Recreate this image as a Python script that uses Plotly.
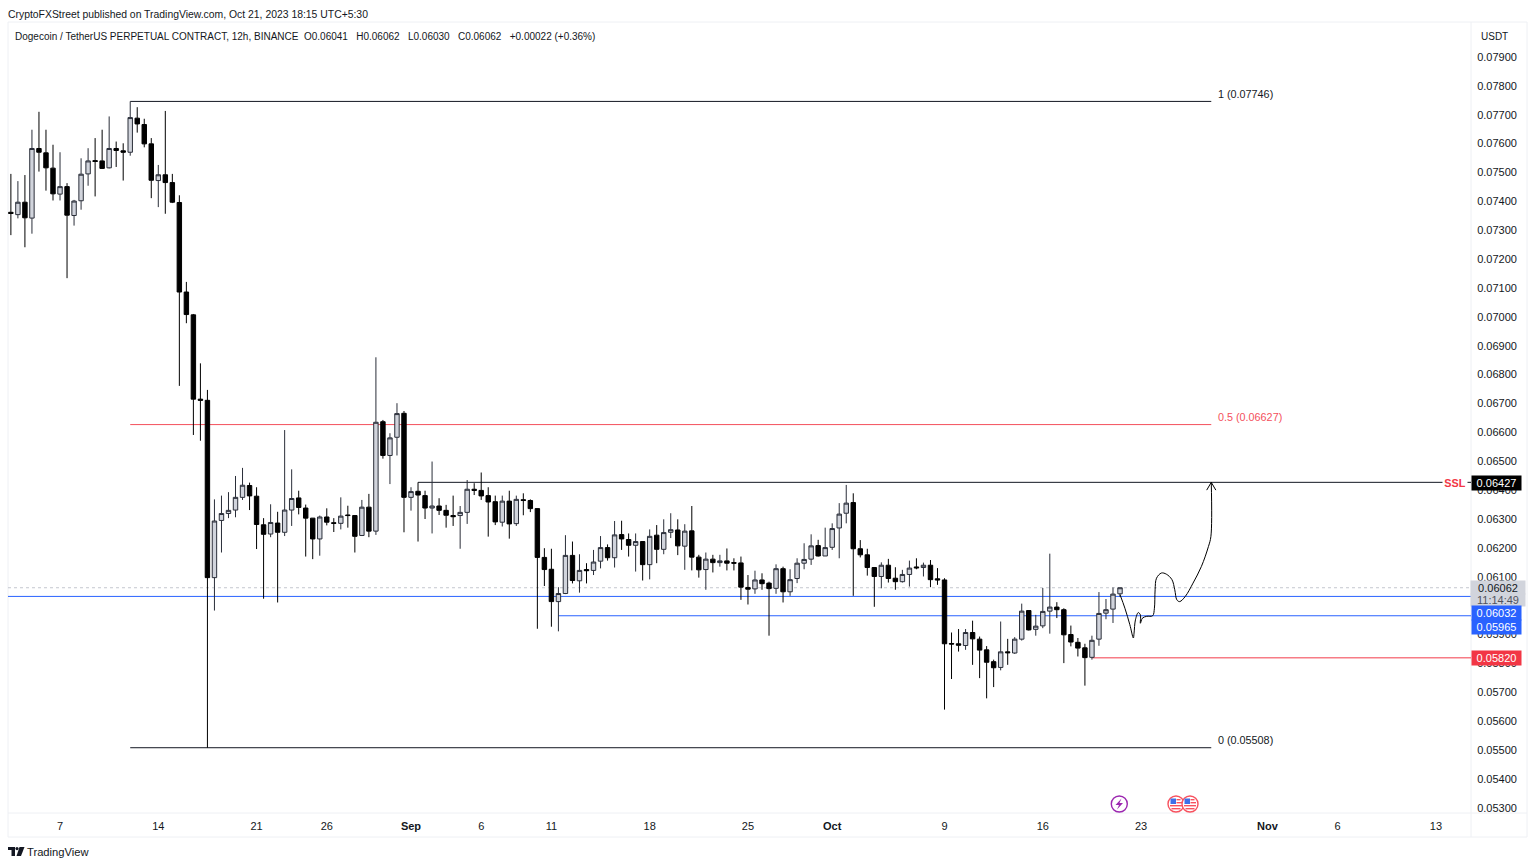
import plotly.graph_objects as go

opens = [0.07362,0.07354,0.07397,0.07342,0.07583,0.07568,0.07515,0.07425,0.07451,0.07351,
0.07402,0.07495,0.07541,0.07540,0.07516,0.07583,0.07575,0.07570,0.07688,0.07666,
0.07599,0.07472,0.07492,0.07465,0.07396,0.07086,0.07007,0.06715,0.06711,0.06097,
0.06295,0.06319,0.06331,0.06375,0.06416,0.06379,0.06280,0.06248,0.06286,0.06254,
0.06331,0.06373,0.06338,0.06303,0.06231,0.06307,0.06287,0.06285,0.06314,0.06312,
0.06243,0.06341,0.06258,0.06637,0.06520,0.06583,0.06666,0.06375,0.06396,0.06381,
0.06338,0.06345,0.06330,0.06312,0.06312,0.06323,0.06403,0.06399,0.06381,0.06360,
0.06289,0.06362,0.06284,0.06367,0.06364,0.06336,0.06167,0.06126,0.06014,0.06042,
0.06174,0.06086,0.06125,0.06122,0.06154,0.06201,0.06166,0.06246,0.06229,0.06209,
0.06222,0.06142,0.06244,0.06195,0.06254,0.06262,0.06206,0.06259,0.06168,0.06125,
0.06161,0.06149,0.06155,0.06149,0.06148,0.06063,0.06058,0.06089,0.06078,0.06060,
0.06128,0.06048,0.06094,0.06147,0.06161,0.06208,0.06172,0.06202,0.06269,0.06320,
0.06357,0.06197,0.06176,0.06132,0.06101,0.06140,0.06095,0.06083,0.06108,0.06134,
0.06132,0.06140,0.06093,0.06089,0.05869,0.05868,0.05862,0.05907,0.05884,0.05847,
0.05806,0.05786,0.05840,0.05836,0.05884,0.05983,0.05918,0.05930,0.05981,0.05995,
0.05986,0.05900,0.05873,0.05854,0.05821,0.05884,0.05974,0.05988,0.06041]
highs = [0.07495,0.07470,0.07491,0.07648,0.07710,0.07648,0.07596,0.07570,0.07463,0.07405,
0.07549,0.07584,0.07619,0.07648,0.07694,0.07607,0.07601,0.07746,0.07726,0.07686,
0.07619,0.07526,0.07713,0.07495,0.07421,0.07121,0.07010,0.06839,0.06747,0.06368,
0.06381,0.06393,0.06449,0.06477,0.06426,0.06410,0.06303,0.06351,0.06325,0.06608,
0.06472,0.06398,0.06350,0.06303,0.06312,0.06337,0.06303,0.06375,0.06346,0.06312,
0.06366,0.06387,0.06860,0.06643,0.06597,0.06701,0.06674,0.06410,0.06427,0.06398,
0.06499,0.06372,0.06349,0.06381,0.06345,0.06435,0.06424,0.06461,0.06410,0.06381,
0.06381,0.06398,0.06381,0.06389,0.06368,0.06336,0.06199,0.06197,0.06064,0.06244,
0.06222,0.06178,0.06147,0.06193,0.06241,0.06212,0.06293,0.06294,0.06250,0.06250,
0.06222,0.06264,0.06279,0.06299,0.06320,0.06299,0.06282,0.06345,0.06176,0.06184,
0.06176,0.06176,0.06198,0.06164,0.06170,0.06106,0.06121,0.06112,0.06083,0.06143,
0.06135,0.06126,0.06164,0.06216,0.06247,0.06228,0.06270,0.06285,0.06355,0.06418,
0.06389,0.06227,0.06197,0.06133,0.06150,0.06162,0.06133,0.06124,0.06156,0.06164,
0.06149,0.06158,0.06130,0.06095,0.05907,0.05919,0.05919,0.05948,0.05893,0.05860,
0.05813,0.05945,0.05885,0.05891,0.06007,0.05983,0.05968,0.06061,0.06180,0.06012,
0.05991,0.05931,0.05888,0.05868,0.05896,0.06047,0.06023,0.06063,0.06062]
lows = [0.07283,0.07341,0.07241,0.07288,0.07503,0.07437,0.07403,0.07403,0.07134,0.07316,
0.07371,0.07454,0.07417,0.07512,0.07514,0.07519,0.07472,0.07558,0.07638,0.07587,
0.07411,0.07380,0.07357,0.07394,0.06761,0.06978,0.06591,0.06571,0.05508,0.05983,
0.06184,0.06303,0.06306,0.06366,0.06331,0.06196,0.06024,0.06237,0.06011,0.06241,
0.06276,0.06316,0.06170,0.06161,0.06173,0.06278,0.06255,0.06264,0.06270,0.06184,
0.06241,0.06237,0.06245,0.06509,0.06421,0.06520,0.06254,0.06329,0.06222,0.06300,
0.06250,0.06314,0.06270,0.06276,0.06197,0.06283,0.06383,0.06366,0.06239,0.06279,
0.06274,0.06232,0.06276,0.06313,0.06324,0.05920,0.06068,0.05927,0.05911,0.06040,
0.06077,0.06045,0.06077,0.06106,0.06129,0.06156,0.06132,0.06193,0.06170,0.06118,
0.06087,0.06091,0.06147,0.06178,0.06234,0.06175,0.06124,0.06122,0.06097,0.06055,
0.06115,0.06135,0.06122,0.06122,0.06020,0.06004,0.06041,0.06055,0.05896,0.06041,
0.06011,0.06034,0.06078,0.06126,0.06141,0.06170,0.06172,0.06193,0.06164,0.06285,
0.06034,0.06167,0.06104,0.05996,0.06060,0.06080,0.06055,0.06080,0.06066,0.06126,
0.06101,0.06064,0.06072,0.05640,0.05746,0.05841,0.05847,0.05795,0.05749,0.05679,
0.05718,0.05776,0.05795,0.05833,0.05879,0.05914,0.05896,0.05922,0.05903,0.05957,
0.05801,0.05859,0.05824,0.05723,0.05813,0.05861,0.05953,0.05940,0.06030]
closes = [0.07358,0.07397,0.07343,0.07583,0.07570,0.07516,0.07426,0.07451,0.07352,0.07401,
0.07494,0.07540,0.07538,0.07514,0.07583,0.07576,0.07570,0.07690,0.07668,0.07599,
0.07473,0.07492,0.07465,0.07397,0.07086,0.07008,0.06715,0.06711,0.06097,0.06293,
0.06319,0.06330,0.06375,0.06417,0.06380,0.06281,0.06247,0.06288,0.06254,0.06331,
0.06371,0.06340,0.06303,0.06231,0.06307,0.06289,0.06285,0.06310,0.06312,0.06240,
0.06341,0.06258,0.06635,0.06520,0.06581,0.06665,0.06375,0.06395,0.06383,0.06338,
0.06345,0.06330,0.06313,0.06308,0.06323,0.06403,0.06399,0.06380,0.06359,0.06290,
0.06362,0.06283,0.06368,0.06364,0.06336,0.06167,0.06125,0.06014,0.06042,0.06174,
0.06087,0.06122,0.06121,0.06151,0.06201,0.06166,0.06245,0.06231,0.06209,0.06222,
0.06142,0.06240,0.06195,0.06253,0.06263,0.06207,0.06258,0.06168,0.06124,0.06161,
0.06149,0.06155,0.06147,0.06147,0.06064,0.06057,0.06089,0.06076,0.06059,0.06128,
0.06048,0.06090,0.06147,0.06160,0.06207,0.06172,0.06201,0.06267,0.06317,0.06355,
0.06197,0.06176,0.06132,0.06101,0.06140,0.06094,0.06083,0.06108,0.06130,0.06131,
0.06140,0.06090,0.06089,0.05868,0.05867,0.05863,0.05907,0.05885,0.05846,0.05804,
0.05785,0.05840,0.05837,0.05884,0.05981,0.05916,0.05929,0.05980,0.05995,0.05986,
0.05899,0.05874,0.05853,0.05820,0.05880,0.05973,0.05986,0.06040,0.06062]

tick_bars = [7, 21, 35, 45, 57, 67, 77, 91, 105, 117, 133, 147, 161, 179, 189, 203]
tick_labels = ["7", "14", "21", "26", "<b>Sep</b>", "6", "11", "18", "25", "<b>Oct</b>", "9", "16", "23", "<b>Nov</b>", "6", "13"]
price_ticks = [0.053, 0.054, 0.055, 0.056, 0.057, 0.058, 0.059, 0.060, 0.061, 0.062, 0.063, 0.064, 0.065,
               0.066, 0.067, 0.068, 0.069, 0.070, 0.071, 0.072, 0.073, 0.074, 0.075, 0.076, 0.077, 0.078, 0.079]

fib_1, fib_half, fib_0 = 0.07746, 0.06627, 0.05508
ssl_level, upper_blue, lower_blue, red_level, last_price = 0.06427, 0.06032, 0.05965, 0.05820, 0.06062

# hand-drawn projection (bar number, price)
sketch_bar = [158.0,158.7,159.4,159.9,160.0,160.2,160.6,160.9,160.9,161.2,161.8,162.65,162.9,163.0,163.2,163.9,
              164.6,165.4,165.8,166.1,166.5,167.3,168.4,169.6,170.6,170.95,171.0]
sketch_price = [0.06038,0.05991,0.05934,0.05888,0.05905,0.05951,0.05976,0.05968,0.05939,0.05957,0.05963,0.05965,
                0.05991,0.06055,0.06095,0.06113,0.06109,0.06090,0.06055,0.06020,0.06014,0.06032,0.06078,0.06136,
                0.06205,0.06240,0.06427]
arrow_bar = [170.35, 171.0, 171.65]
arrow_price = [0.06400, 0.06427, 0.06400]

INK = "#131722"
RED = "#f23645"
BLUE = "#2962ff"
FRAME = "#eef0f4"
FONT = "Liberation Sans"
L, R, T, B = 8, 1471, 22, 813


def xp(px):
    return (px - L) / (R - L)


def yp(py):
    return 1 - (py - T) / (B - T)


fig = go.Figure()
fig.add_trace(go.Candlestick(
    x=list(range(len(opens))), open=opens, high=highs, low=lows, close=closes,
    increasing=dict(line=dict(color="#2a2e39", width=1), fillcolor="#d1d4dc"),
    decreasing=dict(line=dict(color="#000000", width=1), fillcolor="#000000"),
    whiskerwidth=0, showlegend=False, hoverinfo="skip"))
fig.add_trace(go.Scatter(x=sketch_bar, y=sketch_price, mode="lines", line=dict(color="#000000", width=1, shape="spline"),
                         showlegend=False, hoverinfo="skip"))
fig.add_trace(go.Scatter(x=arrow_bar, y=arrow_price, mode="lines", line=dict(color="#000000", width=1),
                         showlegend=False, hoverinfo="skip"))

shapes = []


def hline(x0, x1, y, color, width=1, dash="solid"):
    shapes.append(dict(type="line", xref="x", yref="y", x0=x0, x1=x1, y0=y, y1=y, layer="below",
                       line=dict(color=color, width=width, dash=dash)))


hline(-0.41, 208, last_price, "#c4c7cf", 1, "dot")
hline(17, 171, fib_1, INK)
hline(17, 171, fib_half, "#f4505c")
hline(17, 171, fib_0, INK)
hline(58, 208, ssl_level, INK)
hline(-0.41, 208, upper_blue, BLUE)
hline(78, 208, lower_blue, BLUE)
hline(154, 208, red_level, "#f77c86", 1.5)


def frame(x0, y0, x1, y1):
    shapes.append(dict(type="line", xref="paper", yref="paper", x0=xp(x0), x1=xp(x1), y0=yp(y0), y1=yp(y1),
                       line=dict(color=FRAME, width=1), layer="below"))


frame(8, 22, 1527, 22)
frame(8, 813, 1527, 813)
frame(8, 837, 1527, 837)
frame(8, 22, 8, 837)
frame(1471, 22, 1471, 837)
frame(1527, 22, 1527, 837)


def poly(points, fill, line=None, width=0):
    path = "M " + " L ".join(f"{xp(a):.6f} {yp(b):.6f}" for a, b in points) + " Z"
    shapes.append(dict(type="path", xref="paper", yref="paper", path=path, fillcolor=fill,
                       line=dict(color=line or fill, width=width)))


def circle(cx, cy, r, fill, line, width):
    shapes.append(dict(type="circle", xref="paper", yref="paper", x0=xp(cx - r), x1=xp(cx + r),
                       y0=yp(cy + r), y1=yp(cy - r), fillcolor=fill, line=dict(color=line, width=width)))


def rect(x0, y0, x1, y1, fill):
    poly([(x0, y0), (x1, y0), (x1, y1), (x0, y1)], fill)


# event icons
circle(1119.3, 804, 8, "#ffffff", "#9c27b0", 1.4)
poly([(1121.5, 798.5), (1115.5, 805), (1119, 805), (1117, 809.5), (1123, 803), (1119.5, 803)], "#9c27b0")


def flag(cx, cy):
    circle(cx, cy, 8, "#ffffff", "#f7525f", 1.4)
    rect(cx + 0.5, cy - 5, cx + 4.5, cy - 3.6, "#f7525f")
    rect(cx + 0.5, cy - 2, cx + 6, cy - 0.6, "#f7525f")
    rect(cx - 6, cy + 1, cx + 6, cy + 2.4, "#f7525f")
    rect(cx - 4.5, cy + 4, cx + 4.5, cy + 5.4, "#f7525f")
    rect(cx - 5.5, cy - 5.5, cx, cy, "#3d6fe8")


flag(1176, 804)
flag(1190, 804)

# TradingView logo
rect(8, 847, 15, 850, "#131722")
rect(11.5, 850, 15, 856, "#131722")
circle(17, 848.6, 1.6, "#131722", "#131722", 0)
poly([(19.5, 847), (24.5, 847), (21, 856), (16.5, 856)], "#131722")


def text(px, py, s, size=11, color=INK, anchor="left", **kw):
    return dict(xref="paper", yref="paper", x=xp(px), y=yp(py), text=s, showarrow=False, xanchor=anchor,
                yanchor="middle", align="center", font=dict(family=FONT, size=size, color=color), **kw)


def tag(cx, cy, s, bg, fg, w=49, h=13):
    return text(cx, cy, s, 11, fg, "center", bgcolor=bg, width=w, height=h, borderpad=0)


annotations = [
    text(6, 14.5, "CryptoFXStreet published on TradingView.com, Oct 21, 2023 18:15 UTC+5:30", 10.4),
    text(13, 36.5, "Dogecoin / TetherUS PERPETUAL CONTRACT, 12h, BINANCE &nbsp;O0.06041 &nbsp;&nbsp;H0.06062 &nbsp;&nbsp;L0.06030 &nbsp;&nbsp;C0.06062 &nbsp;&nbsp;+0.00022 (+0.36%)", 10),
    text(1494, 36.5, "USDT", 10, INK, "center"),
    text(25, 851.5, "TradingView", 11.2),
    text(1216, 93.5, "1 (0.07746)", 10.8),
    text(1216, 416.5, "0.5 (0.06627)", 10.8, "#f4505c"),
    text(1216, 740, "0 (0.05508)", 10.8),
    text(1455, 482.5, "<b>SSL</b>", 10.8, RED, "center", bgcolor="#ffffff", width=24, height=13, borderpad=0),
    tag(1498, 587.5, "0.06062", "#d1d4dc", INK, w=54, h=13),
    tag(1498, 600, "11:14:49", "#d1d4dc", "#50535e", w=54, h=12),
    tag(1496.5, 482.5, "0.06427", "#000000", "#ffffff", w=49, h=14),
    tag(1496.5, 613, "0.06032", BLUE, "#ffffff", h=14),
    tag(1496.5, 627, "0.05965", BLUE, "#ffffff", h=14),
    tag(1496.5, 658, "0.05820", RED, "#ffffff", h=14),
]

fig.update_layout(
    width=1536, height=866, autosize=False,
    margin=dict(l=L, r=1536 - R, t=T, b=866 - B, pad=0),
    paper_bgcolor="#ffffff", plot_bgcolor="#ffffff",
    boxgap=0.1, showlegend=False, hovermode=False,
    shapes=shapes, annotations=annotations,
    font=dict(family=FONT, size=11, color=INK),
    xaxis=dict(range=[-0.41, 208.0], rangeslider=dict(visible=False), showgrid=False, zeroline=False, showline=False,
               tickmode="array", tickvals=tick_bars, ticktext=tick_labels, ticks="outside", ticklen=3,
               tickcolor="rgba(0,0,0,0)", tickangle=0, tickfont=dict(family=FONT, size=11, color=INK)),
    yaxis=dict(range=[0.05282, 0.08021], side="right", showgrid=False, zeroline=False, showline=False,
               tickmode="array", tickvals=price_ticks, ticktext=[f"{v:.5f}" for v in price_ticks],
               ticks="outside", ticklen=3, tickcolor="rgba(0,0,0,0)", tickfont=dict(family=FONT, size=11, color=INK)),
)

fig.write_html("out.html", config=dict(displayModeBar=False),
               post_script="document.body.style.margin='0';document.body.style.overflow='hidden';")
